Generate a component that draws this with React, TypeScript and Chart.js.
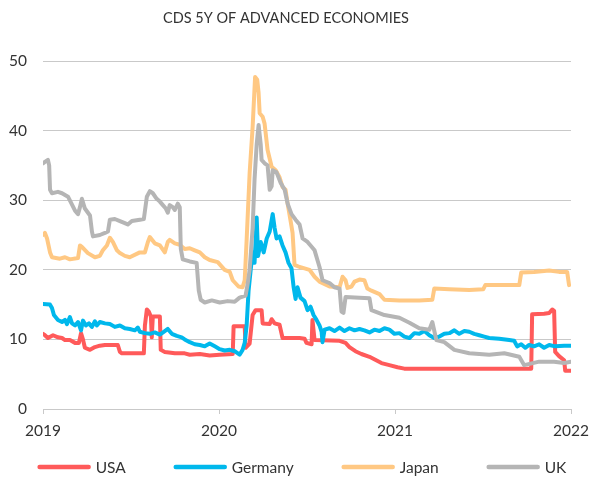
import React, { useEffect, useRef } from "react";
import { Chart, registerables } from "chart.js";

Chart.register(...registerables);

const chartTitle = "CDS 5Y OF ADVANCED ECONOMIES";
const seriesNames = ["USA", "Germany", "Japan", "UK"];
const seriesColors = ["#ff5a5a", "#00b8ec", "#ffc883", "#b5b5b5"];
const yearTicks = [2019, 2020, 2021, 2022];
const yMin = 0;
const yMax = 50;
const yStep = 10;

// USA
const usaYears = [
  2019.000, 2019.011, 2019.028, 2019.057, 2019.085, 2019.108, 2019.125, 2019.153, 2019.182, 2019.204,
  2019.216, 2019.227, 2019.238, 2019.267, 2019.295, 2019.323, 2019.352, 2019.425, 2019.437, 2019.448,
  2019.493, 2019.573, 2019.579, 2019.590, 2019.601, 2019.613, 2019.618, 2019.624, 2019.664, 2019.669,
  2019.692, 2019.749, 2019.805, 2019.834, 2019.891, 2019.947, 2020.004, 2020.078, 2020.083, 2020.146,
  2020.151, 2020.174, 2020.191, 2020.208, 2020.242, 2020.248, 2020.288, 2020.299, 2020.316, 2020.344,
  2020.361, 2020.458, 2020.486, 2020.497, 2020.526, 2020.531, 2020.543, 2020.685, 2020.719, 2020.741,
  2020.775, 2020.809, 2020.855, 2020.923, 2020.968, 2021.014, 2021.053, 2021.309, 2021.592, 2021.774,
  2021.779, 2021.847, 2021.876, 2021.893, 2021.904, 2021.910, 2021.932, 2021.961, 2021.967, 2022.000,
];
const usaValues = [
  10.8, 10.6, 10.2, 10.6, 10.3, 10.2, 9.9, 9.9, 9.5, 9.5,
  10.9, 10.0, 8.8, 8.5, 8.9, 9.1, 9.2, 9.2, 8.2, 8.0,
  8.0, 8.0, 12.0, 14.3, 14.0, 13.3, 10.3, 13.3, 13.3, 8.5,
  8.2, 8.0, 8.0, 7.8, 7.9, 7.7, 7.8, 7.9, 11.9, 11.9,
  8.8, 9.4, 13.5, 14.2, 14.2, 12.3, 12.2, 12.9, 12.3, 12.1,
  10.2, 10.2, 10.1, 9.5, 9.3, 12.8, 9.9, 9.8, 9.5, 8.9,
  8.3, 7.9, 7.5, 6.6, 6.3, 6.0, 5.8, 5.8, 5.8, 5.8,
  13.6, 13.7, 13.8, 14.3, 14.1, 8.2, 7.6, 7.0, 5.5, 5.5,
];

// Germany
const germanyYears = [
  2019.000, 2019.040, 2019.051, 2019.062, 2019.085, 2019.108, 2019.125, 2019.136, 2019.153, 2019.165,
  2019.182, 2019.199, 2019.216, 2019.227, 2019.244, 2019.261, 2019.278, 2019.295, 2019.306, 2019.323,
  2019.352, 2019.380, 2019.408, 2019.437, 2019.465, 2019.493, 2019.522, 2019.539, 2019.550, 2019.579,
  2019.607, 2019.635, 2019.664, 2019.692, 2019.709, 2019.732, 2019.760, 2019.788, 2019.805, 2019.834,
  2019.862, 2019.891, 2019.919, 2019.947, 2019.976, 2020.004, 2020.032, 2020.061, 2020.089, 2020.117,
  2020.134, 2020.146, 2020.157, 2020.168, 2020.180, 2020.191, 2020.202, 2020.214, 2020.222, 2020.237,
  2020.254, 2020.271, 2020.288, 2020.305, 2020.316, 2020.327, 2020.344, 2020.361, 2020.378, 2020.395,
  2020.412, 2020.424, 2020.435, 2020.446, 2020.463, 2020.486, 2020.503, 2020.520, 2020.537, 2020.554,
  2020.571, 2020.583, 2020.588, 2020.600, 2020.628, 2020.656, 2020.685, 2020.713, 2020.741, 2020.770,
  2020.798, 2020.826, 2020.855, 2020.883, 2020.912, 2020.940, 2020.968, 2020.997, 2021.025, 2021.053,
  2021.082, 2021.110, 2021.138, 2021.167, 2021.195, 2021.223, 2021.252, 2021.280, 2021.309, 2021.337,
  2021.365, 2021.394, 2021.422, 2021.450, 2021.479, 2021.507, 2021.535, 2021.592, 2021.649, 2021.677,
  2021.694, 2021.717, 2021.740, 2021.762, 2021.790, 2021.819, 2021.847, 2021.876, 2021.910, 2021.961,
  2022.000,
];
const germanyValues = [
  15.1, 15.0, 14.5, 13.5, 12.8, 12.5, 12.8, 12.2, 13.2, 12.3,
  12.0, 12.5, 11.3, 12.7, 12.0, 12.3, 11.8, 12.6, 12.0, 12.5,
  12.3, 12.2, 11.8, 12.0, 11.6, 11.5, 11.3, 11.7, 11.1, 10.9,
  10.8, 11.0, 10.7, 11.2, 11.5, 10.8, 10.5, 10.3, 10.0, 9.6,
  9.3, 9.2, 9.0, 9.4, 9.0, 8.6, 8.4, 8.5, 8.3, 7.8,
  8.5, 9.5, 12.0, 17.0, 20.0, 22.5, 21.0, 27.5, 22.0, 24.0,
  22.5, 24.5, 25.5, 28.0, 26.0, 24.5, 24.8, 23.5, 22.5, 21.0,
  20.2, 17.5, 15.8, 17.5, 16.0, 15.5, 14.2, 14.7, 13.5, 12.8,
  12.0, 11.1, 9.6, 11.4, 11.6, 11.2, 11.7, 11.2, 11.6, 11.3,
  11.5, 11.3, 11.0, 11.4, 11.2, 11.6, 11.4, 10.8, 10.9, 10.4,
  10.2, 10.9, 10.8, 11.2, 10.6, 10.2, 10.4, 10.8, 10.9, 11.3,
  10.8, 11.2, 11.1, 10.8, 10.6, 10.4, 10.2, 10.1, 9.9, 9.8,
  9.0, 9.3, 8.8, 9.2, 9.0, 9.3, 8.8, 9.2, 9.0, 9.1,
  9.1,
];

// Japan
const japanYears = [
  2019.000, 2019.011, 2019.023, 2019.040, 2019.051, 2019.096, 2019.125, 2019.153, 2019.199, 2019.210,
  2019.221, 2019.255, 2019.295, 2019.323, 2019.340, 2019.363, 2019.380, 2019.397, 2019.420, 2019.437,
  2019.465, 2019.493, 2019.550, 2019.579, 2019.596, 2019.607, 2019.635, 2019.664, 2019.692, 2019.709,
  2019.720, 2019.749, 2019.777, 2019.805, 2019.834, 2019.862, 2019.891, 2019.919, 2019.947, 2019.993,
  2020.032, 2020.061, 2020.078, 2020.111, 2020.134, 2020.146, 2020.157, 2020.174, 2020.191, 2020.205,
  2020.217, 2020.225, 2020.231, 2020.248, 2020.259, 2020.276, 2020.299, 2020.322, 2020.344, 2020.361,
  2020.378, 2020.390, 2020.407, 2020.418, 2020.429, 2020.458, 2020.486, 2020.514, 2020.543, 2020.571,
  2020.628, 2020.685, 2020.702, 2020.719, 2020.730, 2020.753, 2020.770, 2020.798, 2020.826, 2020.843,
  2020.866, 2020.912, 2020.940, 2021.025, 2021.138, 2021.212, 2021.223, 2021.309, 2021.422, 2021.501,
  2021.513, 2021.592, 2021.706, 2021.717, 2021.790, 2021.876, 2021.932, 2021.978, 2021.989,
];
const japanValues = [
  25.0, 25.3, 24.5, 22.5, 21.8, 21.6, 21.8, 21.5, 21.7, 23.5,
  23.3, 22.4, 21.8, 22.0, 22.8, 23.5, 24.6, 24.0, 22.8, 22.4,
  22.0, 21.8, 22.5, 22.5, 24.0, 24.7, 23.8, 23.5, 22.5, 24.0,
  24.3, 23.8, 23.6, 23.0, 23.1, 22.8, 22.5, 21.8, 21.4, 21.1,
  20.0, 19.7, 18.5, 17.6, 17.5, 18.5, 24.3, 33.9, 40.5, 47.7,
  47.3, 45.4, 42.5, 42.0, 41.0, 37.2, 34.8, 34.3, 33.3, 31.9,
  31.5, 29.5, 27.0, 25.3, 20.7, 20.4, 20.2, 20.0, 19.0, 18.3,
  17.6, 17.5, 19.0, 18.5, 17.4, 17.6, 18.3, 18.6, 18.5, 17.3,
  17.0, 16.5, 15.7, 15.6, 15.6, 15.7, 17.3, 17.2, 17.1, 17.2,
  17.8, 17.8, 17.8, 19.6, 19.7, 19.9, 19.7, 19.7, 17.8,
];

// UK
const ukYears = [
  2019.000, 2019.011, 2019.028, 2019.035, 2019.040, 2019.051, 2019.085, 2019.108, 2019.142, 2019.182,
  2019.199, 2019.210, 2019.221, 2019.238, 2019.267, 2019.278, 2019.284, 2019.323, 2019.352, 2019.369,
  2019.380, 2019.408, 2019.437, 2019.465, 2019.482, 2019.505, 2019.550, 2019.573, 2019.590, 2019.607,
  2019.624, 2019.646, 2019.664, 2019.681, 2019.698, 2019.709, 2019.720, 2019.737, 2019.749, 2019.766,
  2019.777, 2019.783, 2019.794, 2019.834, 2019.873, 2019.885, 2019.896, 2019.919, 2019.959, 2020.004,
  2020.049, 2020.089, 2020.117, 2020.151, 2020.163, 2020.174, 2020.191, 2020.202, 2020.214, 2020.225,
  2020.237, 2020.242, 2020.259, 2020.276, 2020.288, 2020.299, 2020.305, 2020.327, 2020.350, 2020.373,
  2020.390, 2020.412, 2020.435, 2020.458, 2020.475, 2020.503, 2020.543, 2020.571, 2020.588, 2020.628,
  2020.656, 2020.685, 2020.696, 2020.707, 2020.719, 2020.798, 2020.855, 2020.866, 2020.940, 2021.025,
  2021.082, 2021.138, 2021.195, 2021.212, 2021.235, 2021.280, 2021.337, 2021.422, 2021.535, 2021.621,
  2021.706, 2021.734, 2021.819, 2021.904, 2021.961, 2022.000,
];
const ukValues = [
  35.3, 35.5, 35.8, 35.0, 31.5, 31.0, 31.2, 31.0, 30.5, 28.5,
  28.0, 29.0, 30.2, 28.8, 27.8, 25.5, 24.8, 25.0, 25.3, 25.5,
  27.2, 27.3, 27.0, 26.7, 26.5, 27.0, 27.2, 27.3, 30.5, 31.3,
  31.0, 30.2, 29.8, 29.3, 28.8, 28.2, 29.3, 29.0, 28.6, 29.5,
  29.0, 23.0, 21.5, 21.2, 21.0, 17.0, 15.7, 15.3, 15.6, 15.3,
  15.5, 15.4, 16.0, 16.3, 18.0, 20.0, 26.0, 33.0, 38.0, 40.8,
  38.0, 35.8, 35.3, 35.0, 31.5, 32.0, 34.3, 34.0, 32.5, 31.5,
  29.5, 28.0, 27.2, 26.5, 24.5, 24.0, 22.8, 20.4, 18.5, 18.1,
  17.5, 17.3, 14.0, 13.8, 16.1, 16.0, 15.9, 14.2, 13.5, 13.1,
  12.4, 11.6, 11.4, 12.5, 9.9, 9.6, 8.5, 8.0, 7.8, 8.0,
  7.5, 6.3, 6.8, 6.8, 6.6, 6.8,
];

const FONT = "Lato, 'Open Sans', sans-serif";
const TEXT = "#333333";
const GRID = "#c9c9c9";

const toPoints = (xs: number[], ys: number[]) =>
  xs.slice(0, Math.min(xs.length, ys.length)).map((x, i) => ({ x, y: ys[i] }));

const bottomLegend = {
  id: "bottomLegend",
  afterDraw(chart: any) {
    const ctx = chart.ctx;
    const ds = chart.data.datasets;
    ctx.save();
    ctx.font = `15.5px ${FONT}`;
    const sw = 53;
    const gapText = 5;
    const gapItem = 48;
    const widths = ds.map((d: any) => sw + gapText + ctx.measureText(d.label).width);
    const total = widths.reduce((a: number, b: number) => a + b, 0) + gapItem * (ds.length - 1);
    let x = 302 - total / 2;
    const y = 467;
    ds.forEach((d: any, i: number) => {
      ctx.strokeStyle = d.borderColor;
      ctx.lineWidth = 4.5;
      ctx.lineCap = "round";
      ctx.beginPath();
      ctx.moveTo(x + 2, y);
      ctx.lineTo(x + sw - 2, y);
      ctx.stroke();
      ctx.fillStyle = TEXT;
      ctx.textBaseline = "middle";
      ctx.textAlign = "left";
      ctx.fillText(d.label, x + sw + gapText, y + 1);
      x += widths[i] + gapItem;
    });
    ctx.restore();
  },
};

export default function App() {
  const ref = useRef<HTMLCanvasElement | null>(null);

  useEffect(() => {
    if (!ref.current) return;
    const seriesData = [
      toPoints(usaYears, usaValues),
      toPoints(germanyYears, germanyValues),
      toPoints(japanYears, japanValues),
      toPoints(ukYears, ukValues),
    ];
    const chart = new Chart(ref.current, {
      type: "line",
      data: {
        datasets: seriesNames.map((name, i) => ({
          label: name,
          data: seriesData[i],
          borderColor: seriesColors[i],
          backgroundColor: seriesColors[i],
          borderWidth: 4,
          pointRadius: 0,
          pointHoverRadius: 0,
          tension: 0,
          borderJoinStyle: "round",
          borderCapStyle: "round",
          fill: false,
          order: seriesNames.length - 1 - i,
        })),
      },
      options: {
        animation: false,
        responsive: false,
        maintainAspectRatio: false,
        parsing: false,
        normalized: true,
        layout: { padding: { left: 0, right: 25, top: 0, bottom: 35 } },
        plugins: {
          legend: { display: false },
          tooltip: { enabled: false },
          title: {
            display: true,
            text: chartTitle,
            color: TEXT,
            font: { family: FONT, size: 14.5, weight: "normal" },
            padding: { top: 10, bottom: 33.6 },
          },
        },
        scales: {
          x: {
            type: "linear",
            min: yearTicks[0],
            max: yearTicks[yearTicks.length - 1],
            afterBuildTicks: (scale: any) => {
              scale.ticks = yearTicks.map((v) => ({ value: v }));
            },
            ticks: {
              callback: (v: any) => String(v),
              color: TEXT,
              font: { family: FONT, size: 15.5 },
              padding: 8,
              maxRotation: 0,
              autoSkip: false,
            },
            grid: { drawOnChartArea: false, drawTicks: true, tickLength: 5, color: GRID },
            border: { display: true, color: GRID, width: 1 },
            afterFit: (scale: any) => {
              scale.height = 35;
            },
          },
          y: {
            min: yMin,
            max: yMax,
            ticks: {
              stepSize: yStep,
              color: TEXT,
              font: { family: FONT, size: 15.5 },
              padding: 16,
            },
            grid: { color: GRID, drawTicks: false },
            border: { display: false },
            afterFit: (scale: any) => {
              scale.width = 43;
            },
          },
        },
      },
      plugins: [bottomLegend],
    } as any);
    return () => chart.destroy();
  }, []);

  return (
    <div style={{ position: "fixed", left: 0, top: 0, width: 597, height: 479, background: "#fff" }}>
      <canvas ref={ref} width={597} height={479} style={{ display: "block" }} />
    </div>
  );
}
